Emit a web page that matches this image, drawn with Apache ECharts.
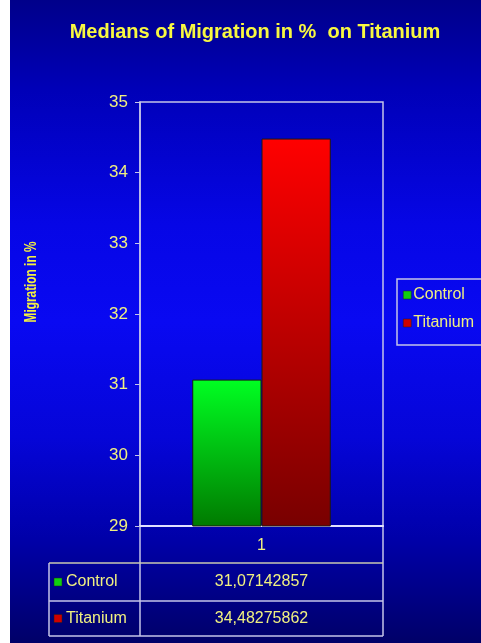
<!DOCTYPE html>
<html>
<head>
<meta charset="utf-8">
<script src="https://cdn.jsdelivr.net/npm/echarts@6/dist/echarts.min.js"></script>
<style>
  html, body { margin: 0; padding: 0; background: #fff; }
  #chart {
    width: 481px; height: 643px;
    background:
      linear-gradient(to right, #ffffff 0, #ffffff 10px, transparent 10px),
      linear-gradient(to bottom, #00008a 0%, #0000b8 14%, #0606e6 35%, #0909f2 50%, #0505d8 68%, #0000a8 84%, #000068 100%);
  }
</style>
</head>
<body>
<div id="chart"></div>
<script>
const titleText = 'Medians of Migration in %  on Titanium';
const yAxisTitle = 'Migration in %';
const categories = ['1'];
const seriesNames = ['Control', 'Titanium'];
const controlValues = [31.07142857];
const titaniumValues = [34.48275862];
const yTicks = [29, 30, 31, 32, 33, 34, 35];

const FONT = "'Liberation Sans', Arial, sans-serif";
const LINE = '#c4c4e8';
const TEXT = '#f0f080';

const chart = echarts.init(document.getElementById('chart'), null, { renderer: 'canvas' });

const gridL = 140, gridR = 98, gridT = 102, gridB = 117;
const W = 481, H = 643;
const plotRight = W - gridR;
const axisY = H - gridB;
const tblLeft = 49, row0 = 563, row1 = 601, row2 = 636;

function fmt(v) { return String(v).replace('.', ','); }

const greenGrad = new echarts.graphic.LinearGradient(0, 0, 0, 1, [
  { offset: 0, color: '#00ff22' }, { offset: 1, color: '#007a00' }]);
const redGrad = new echarts.graphic.LinearGradient(0, 0, 0, 1, [
  { offset: 0, color: '#ff0000' }, { offset: 1, color: '#780000' }]);

const seriesValues = [controlValues, titaniumValues];
const seriesColors = [greenGrad, redGrad];
const markerColors = ['#10d010', '#d00000'];

const graphics = [
  { type: 'text', x: 32, y: 282, rotation: Math.PI / 2, scaleX: 0.74, scaleY: 1,
    style: { text: yAxisTitle, fill: '#f4f040', font: "bold 16px " + FONT, textAlign: 'center', textVerticalAlign: 'middle' } },
  // table lines
  { type: 'line', shape: { x1: gridL, y1: axisY, x2: gridL, y2: row2 }, style: { stroke: LINE, lineWidth: 1.5 } },
  { type: 'line', shape: { x1: plotRight, y1: axisY, x2: plotRight, y2: row2 }, style: { stroke: LINE, lineWidth: 1.5 } },
  { type: 'line', shape: { x1: tblLeft, y1: row0, x2: tblLeft, y2: row2 }, style: { stroke: LINE, lineWidth: 1.5 } },
  { type: 'line', shape: { x1: tblLeft, y1: row0, x2: plotRight, y2: row0 }, style: { stroke: '#c8c8b0', lineWidth: 1.5 } },
  { type: 'line', shape: { x1: tblLeft, y1: row1, x2: plotRight, y2: row1 }, style: { stroke: LINE, lineWidth: 1.5 } },
  { type: 'line', shape: { x1: tblLeft, y1: row2, x2: plotRight, y2: row2 }, style: { stroke: LINE, lineWidth: 1.5 } }
];
const rowsY = [row0, row1, row2];
seriesNames.forEach((name, i) => {
  const cy = (rowsY[i] + rowsY[i + 1]) / 2;
  graphics.push({ type: 'rect', shape: { x: 54, y: cy - 4, width: 8, height: 8 },
    style: { fill: markerColors[i], stroke: '#202020', lineWidth: 0.5 } });
  graphics.push({ type: 'text', x: 66, y: cy,
    style: { text: name, fill: TEXT, font: "16px " + FONT, textVerticalAlign: 'middle' } });
  graphics.push({ type: 'text', x: (gridL + plotRight) / 2, y: cy,
    style: { text: fmt(seriesValues[i][0]), fill: TEXT, font: "16px " + FONT, textAlign: 'center', textVerticalAlign: 'middle' } });
});

chart.setOption({
  backgroundColor: 'transparent',
  animation: false,
  title: {
    text: titleText, left: 250, top: 17, textAlign: 'center',
    textStyle: { color: '#f8f840', fontSize: 20, fontWeight: 'bold', fontFamily: FONT }
  },
  legend: {
    orient: 'vertical', left: 397, top: 279,
    data: seriesNames.map((n, i) => ({ name: n, itemStyle: { color: markerColors[i], borderColor: '#202020', borderWidth: 0.5 } })),
    icon: 'rect', itemWidth: 8, itemHeight: 8, itemGap: 12,
    padding: [8, 20, 14, 6],
    borderColor: LINE, borderWidth: 1.5,
    textStyle: { color: TEXT, fontSize: 16, fontFamily: FONT, padding: [0, 0, 0, -3] }
  },
  grid: { left: gridL, right: gridR, top: gridT, bottom: gridB, show: true, borderColor: LINE, borderWidth: 1.5, backgroundColor: 'transparent' },
  xAxis: {
    type: 'category', data: categories,
    axisLine: { lineStyle: { color: '#e0e0ff', width: 2 } },
    axisTick: { show: false },
    axisLabel: { color: TEXT, fontSize: 16, fontFamily: FONT, margin: 12 }
  },
  yAxis: {
    type: 'value', min: yTicks[0], max: yTicks[yTicks.length - 1], interval: 1,
    axisLine: { show: true, lineStyle: { color: LINE, width: 1.5 } },
    axisTick: { show: true, length: 5, lineStyle: { color: LINE } },
    axisLabel: { color: TEXT, fontSize: 17, fontFamily: FONT, margin: 12 },
    splitLine: { show: false }
  },
  series: seriesNames.map((n, i) => ({
    name: n, type: 'bar', data: seriesValues[i],
    barGap: 0, barCategoryGap: '43%',
    itemStyle: { color: seriesColors[i], borderColor: '#1a1a1a', borderWidth: 1 }
  })),
  graphic: graphics
});
</script>
</body>
</html>
